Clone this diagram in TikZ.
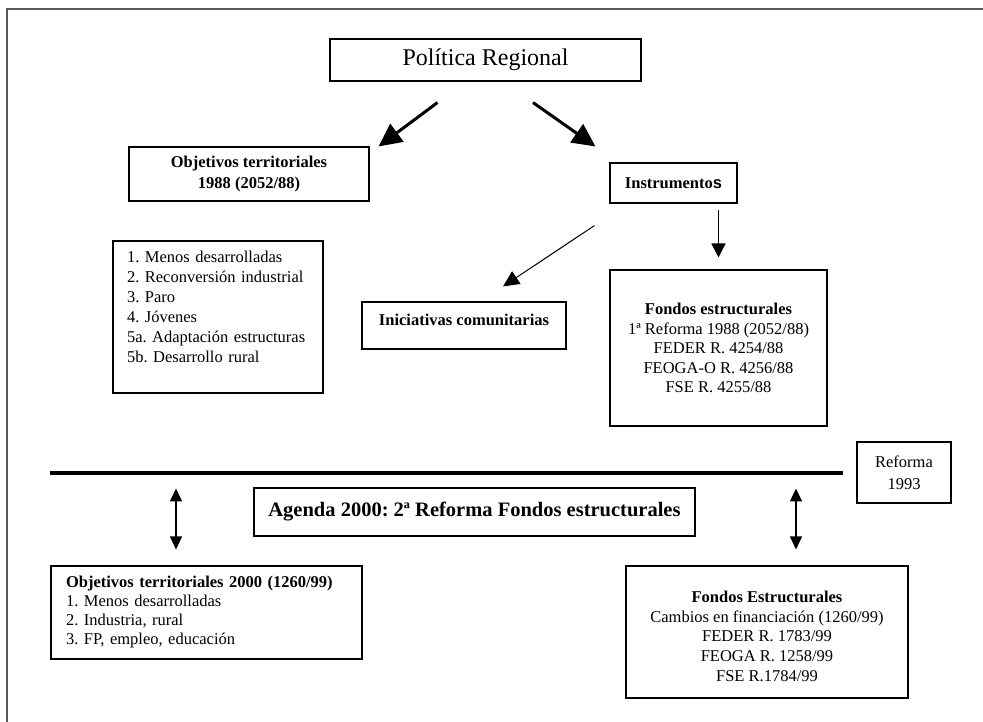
\documentclass[tikz,border=0pt]{standalone}
\usepackage{fontspec}
\setmainfont{Liberation Serif}
\setsansfont{Liberation Sans}
\usetikzlibrary{arrows.meta}
\frenchspacing
\tikzset{
caja/.style={rectangle,draw=black,line width=1.1pt,inner sep=0pt,
font=\fontsize{16.5}{20}\selectfont},
cajanegrita/.style={caja,font=\fontsize{16.5}{20}\selectfont\bfseries},
marco/.style={draw=black!65,line width=2pt},
barra/.style={line width=4.7pt},
flechagorda/.style={line width=3pt,-{Triangle[length=23pt,width=22pt]}},
flecha/.style={line width=1.5pt,-{Triangle[length=14pt,width=14pt]}},
flechafina/.style={line width=1pt,-{Triangle[length=16pt,width=15pt]}},
doble/.style={line width=1.5pt,{Triangle[length=13pt,width=12pt]}-{Triangle[length=13pt,width=12pt]}}
}
\begin{document}
\begin{tikzpicture}[x=1pt,y=-1pt]
\useasboundingbox (0,0) rectangle (983,721);

% marco exterior
\coordinate (mA) at (990,9);
\coordinate (mB) at (7,9);
\coordinate (mC) at (7,730);
\draw[marco] (mA) -- (mB) -- (mC);

\node[caja,minimum width=311pt,minimum height=42pt,
font=\fontsize{24}{28}\selectfont] (polit) at (485.5,60) {Política Regional};

\node[cajanegrita,minimum width=240pt,minimum height=54pt,align=center,
font=\fontsize{16.5}{21}\selectfont\bfseries] (objA) at (249,174)
{Objetivos territoriales\\1988 (2052/88)};
\node[cajanegrita,minimum width=127pt,minimum height=40pt] (instr) at (673.5,183)
{Instrumento{\sffamily s}};

\node[caja,text width=182pt,inner xsep=14pt,minimum height=152pt,align=left] (listA) at (218,317)
{1. Menos desarrolladas\\2. Reconversión industrial\\3. Paro\\4. Jóvenes\\
5a. Adaptación estructuras\\5b. Desarrollo rural\\\mbox{}};
\node[cajanegrita,minimum width=204pt,minimum height=47pt,text height=11pt,text depth=11pt] (inic) at (464,325.5)
{Iniciativas comunitarias};
\node[caja,minimum width=217pt,minimum height=156pt,align=center,
font=\fontsize{16.5}{19.5}\selectfont] (fondA) at (718.5,348)
{\textbf{Fondos estructurales}\\1ª Reforma 1988 (2052/88)\\FEDER R. 4254/88\\
FEOGA-O R. 4256/88\\FSE R. 4255/88};

\node[caja,minimum width=94pt,minimum height=61pt,align=center,
font=\fontsize{16.5}{22}\selectfont] (reform) at (904,472.5) {Reforma\\1993};
\coordinate (barL) at (50,473);
\coordinate (barR) at (843,473);
\draw[barra] (barL) -- (barR);

\node[cajanegrita,minimum width=441pt,minimum height=48pt,
font=\fontsize{20.5}{24}\selectfont\bfseries] (agenda) at (474.5,512)
{Agenda 2000: 2ª Reforma Fondos estructurales};

\node[caja,text width=281pt,inner xsep=15pt,minimum height=93pt,align=left,
font=\fontsize{16.5}{19}\selectfont] (objB) at (206.5,612.5)
{\textbf{Objetivos territoriales 2000 (1260/99)}\\1. Menos desarrolladas\\
2. Industria, rural\\3. FP, empleo, educación};
\node[caja,minimum width=282pt,minimum height=132pt,align=center,
font=\fontsize{16.5}{19.75}\selectfont] (fondB) at (767,632)
{\mbox{}\\\textbf{Fondos Estructurales}\\Cambios en financiación (1260/99)\\
FEDER R. 1783/99\\FEOGA R. 1258/99\\FSE R.1784/99};

% flechas
\draw[flechagorda] ([xshift=-48pt,yshift=-21pt]polit.south) -- ([xshift=9pt]objA.north east);
\draw[flechagorda] ([xshift=47.5pt,yshift=-21pt]polit.south) -- ([xshift=-14pt,yshift=16pt]instr.north west);
\draw[flecha] ([yshift=-6pt]instr.south -| fondA.north) -- ([yshift=12pt]fondA.north);
\draw[flechafina] ([xshift=-15pt,yshift=-22pt]instr.south west) -- ([xshift=39pt,yshift=15pt]inic.north);
\draw[doble] ([xshift=-30.5pt,yshift=77pt]objB.north) -- ([xshift=-30.5pt,yshift=16pt]objB.north);
\draw[doble] ([xshift=29pt,yshift=77pt]fondB.north) -- ([xshift=29pt,yshift=16pt]fondB.north);
\end{tikzpicture}
\end{document}
